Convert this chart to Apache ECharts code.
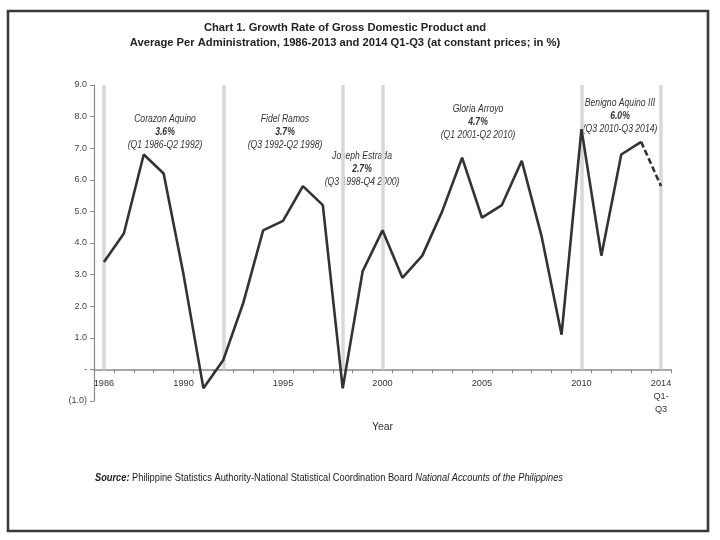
<!DOCTYPE html>
<html>
<head>
<meta charset="utf-8">
<script src="https://cdn.jsdelivr.net/npm/echarts@6/dist/echarts.min.js"></script>
<style>html,body{margin:0;padding:0;background:#fff}#c{width:720px;height:540px}</style>
</head>
<body>
<div id="c"></div>
<script>
var years = ['1986','1987','1988','1989','1990','1991','1992','1993','1994','1995','1996','1997','1998','1999','2000','2001','2002','2003','2004','2005','2006','2007','2008','2009','2010','2011','2012','2013','2014\nQ1-\nQ3'];
var growth = [3.4,4.3,6.8,6.2,3.0,-0.6,0.3,2.1,4.4,4.7,5.8,5.2,-0.6,3.1,4.4,2.9,3.6,5.0,6.7,4.8,5.2,6.6,4.2,1.1,7.6,3.6,6.8,7.2,5.8];
var shownYearLabels = ['1986','1990','1995','2000','2005','2010','2014\nQ1-\nQ3'];
var termBoundaries = ['1986','1992','1998','2000','2010','2014\nQ1-\nQ3'];
var yTickLabels = {'9':'9.0','8':'8.0','7':'7.0','6':'6.0','5':'5.0','4':'4.0','3':'3.0','2':'2.0','1':'1.0','0':'-','-1':'(1.0)'};
var administrations = [
  {name:'Corazon Aquino', avg:'3.6%', period:'(Q1 1986-Q2 1992)'},
  {name:'Fidel Ramos', avg:'3.7%', period:'(Q3 1992-Q2 1998)'},
  {name:'Joseph Estrada', avg:'2.7%', period:'(Q3 1998-Q4 2000)'},
  {name:'Gloria Arroyo', avg:'4.7%', period:'(Q1 2001-Q2 2010)'},
  {name:'Benigno Aquino III', avg:'6.0%', period:'(Q3 2010-Q3 2014)'}
];
var annPos = [[165,132],[285,132],[362,169],[478,122],[620,116]];

var n = years.length;
var solid = growth.map(function(v,i){ return i < n-1 ? v : null; });
var dashed = growth.map(function(v,i){ return i >= n-2 ? v : null; });

var SF = "'Liberation Sans',Arial,sans-serif";
var graphics = [
  {type:'rect', shape:{x:8,y:11,width:700,height:520}, style:{fill:'none', stroke:'#3a3a3a', lineWidth:2.6}},
  {type:'text', x:345, y:28, style:{text:'Chart 1. Growth Rate of Gross Domestic Product and', font:"bold 11.2px "+SF, fill:'#222', textAlign:'center', textVerticalAlign:'middle'}},
  {type:'text', x:345, y:43, style:{text:'Average Per Administration, 1986-2013 and 2014 Q1-Q3 (at constant prices; in %)', font:"bold 11.2px "+SF, fill:'#222', textAlign:'center', textVerticalAlign:'middle'}},
  {type:'text', x:95, y:478, scaleX:0.785, style:{
    text:'{b|Source:} {n|Philippine Statistics Authority-National Statistical Coordination Board} {i|National Accounts of the Philippines}',
    textVerticalAlign:'middle',
    rich:{
      b:{font:"italic bold 11.8px "+SF, fill:'#222'},
      n:{font:"11.8px "+SF, fill:'#222'},
      i:{font:"italic 11.8px "+SF, fill:'#222'}
    }}}
];
administrations.forEach(function(a,i){
  var p = annPos[i];
  graphics.push({type:'text', x:p[0], y:p[1], scaleX:0.82, style:{
    text:'{n|'+a.name+'}\n{v|'+a.avg+'}\n{n|'+a.period+'}',
    textAlign:'center', textVerticalAlign:'middle',
    rich:{
      n:{font:"italic 10.5px "+SF, fill:'#333', lineHeight:13, align:'center'},
      v:{font:"italic bold 10.5px "+SF, fill:'#333', lineHeight:13, align:'center'}
    }}});
});

var chart = echarts.init(document.getElementById('c'));
chart.setOption({
  animation:false,
  backgroundColor:'#fff',
  grid:{left:94, right:49, top:85, bottom:139, containLabel:false},
  xAxis:{
    type:'category', data:years, boundaryGap:true, offset:-31.6,
    axisLine:{onZero:false, lineStyle:{color:'#8a8a8a', width:1.5}},
    axisTick:{show:true, interval:0, length:4, lineStyle:{color:'#8a8a8a'}},
    axisLabel:{interval:0, color:'#333', fontFamily:SF, fontSize:9.2, lineHeight:13, margin:8,
      formatter:function(v){ return shownYearLabels.indexOf(v) >= 0 ? v : ''; }},
    name:'Year', nameLocation:'middle', nameGap:52,
    nameTextStyle:{color:'#333', fontFamily:SF, fontSize:10.5}
  },
  yAxis:{
    type:'value', min:-1, max:9, interval:1,
    splitLine:{show:false},
    axisLine:{show:true, lineStyle:{color:'#8a8a8a', width:1.2}},
    axisTick:{show:true, length:4, lineStyle:{color:'#8a8a8a'}},
    axisLabel:{color:'#444', fontFamily:SF, fontSize:9, margin:7,
      formatter:function(v){ return yTickLabels[String(Math.round(v))]; }}
  },
  series:[
    {type:'line', data:solid, symbol:'none', z:3,
      lineStyle:{color:'#333', width:2.6},
      markLine:{silent:true, symbol:'none', label:{show:false}, z:1,
        lineStyle:{color:'#d8d8d8', width:3.5, type:'solid'},
        data: termBoundaries.map(function(c){ return [{coord:[c,0]},{coord:[c,9]}]; })
      }},
    {type:'line', data:dashed, symbol:'none', z:3,
      lineStyle:{color:'#333', width:2.6, type:[6,3]}}
  ],
  graphic:graphics
});
</script>
</body>
</html>
